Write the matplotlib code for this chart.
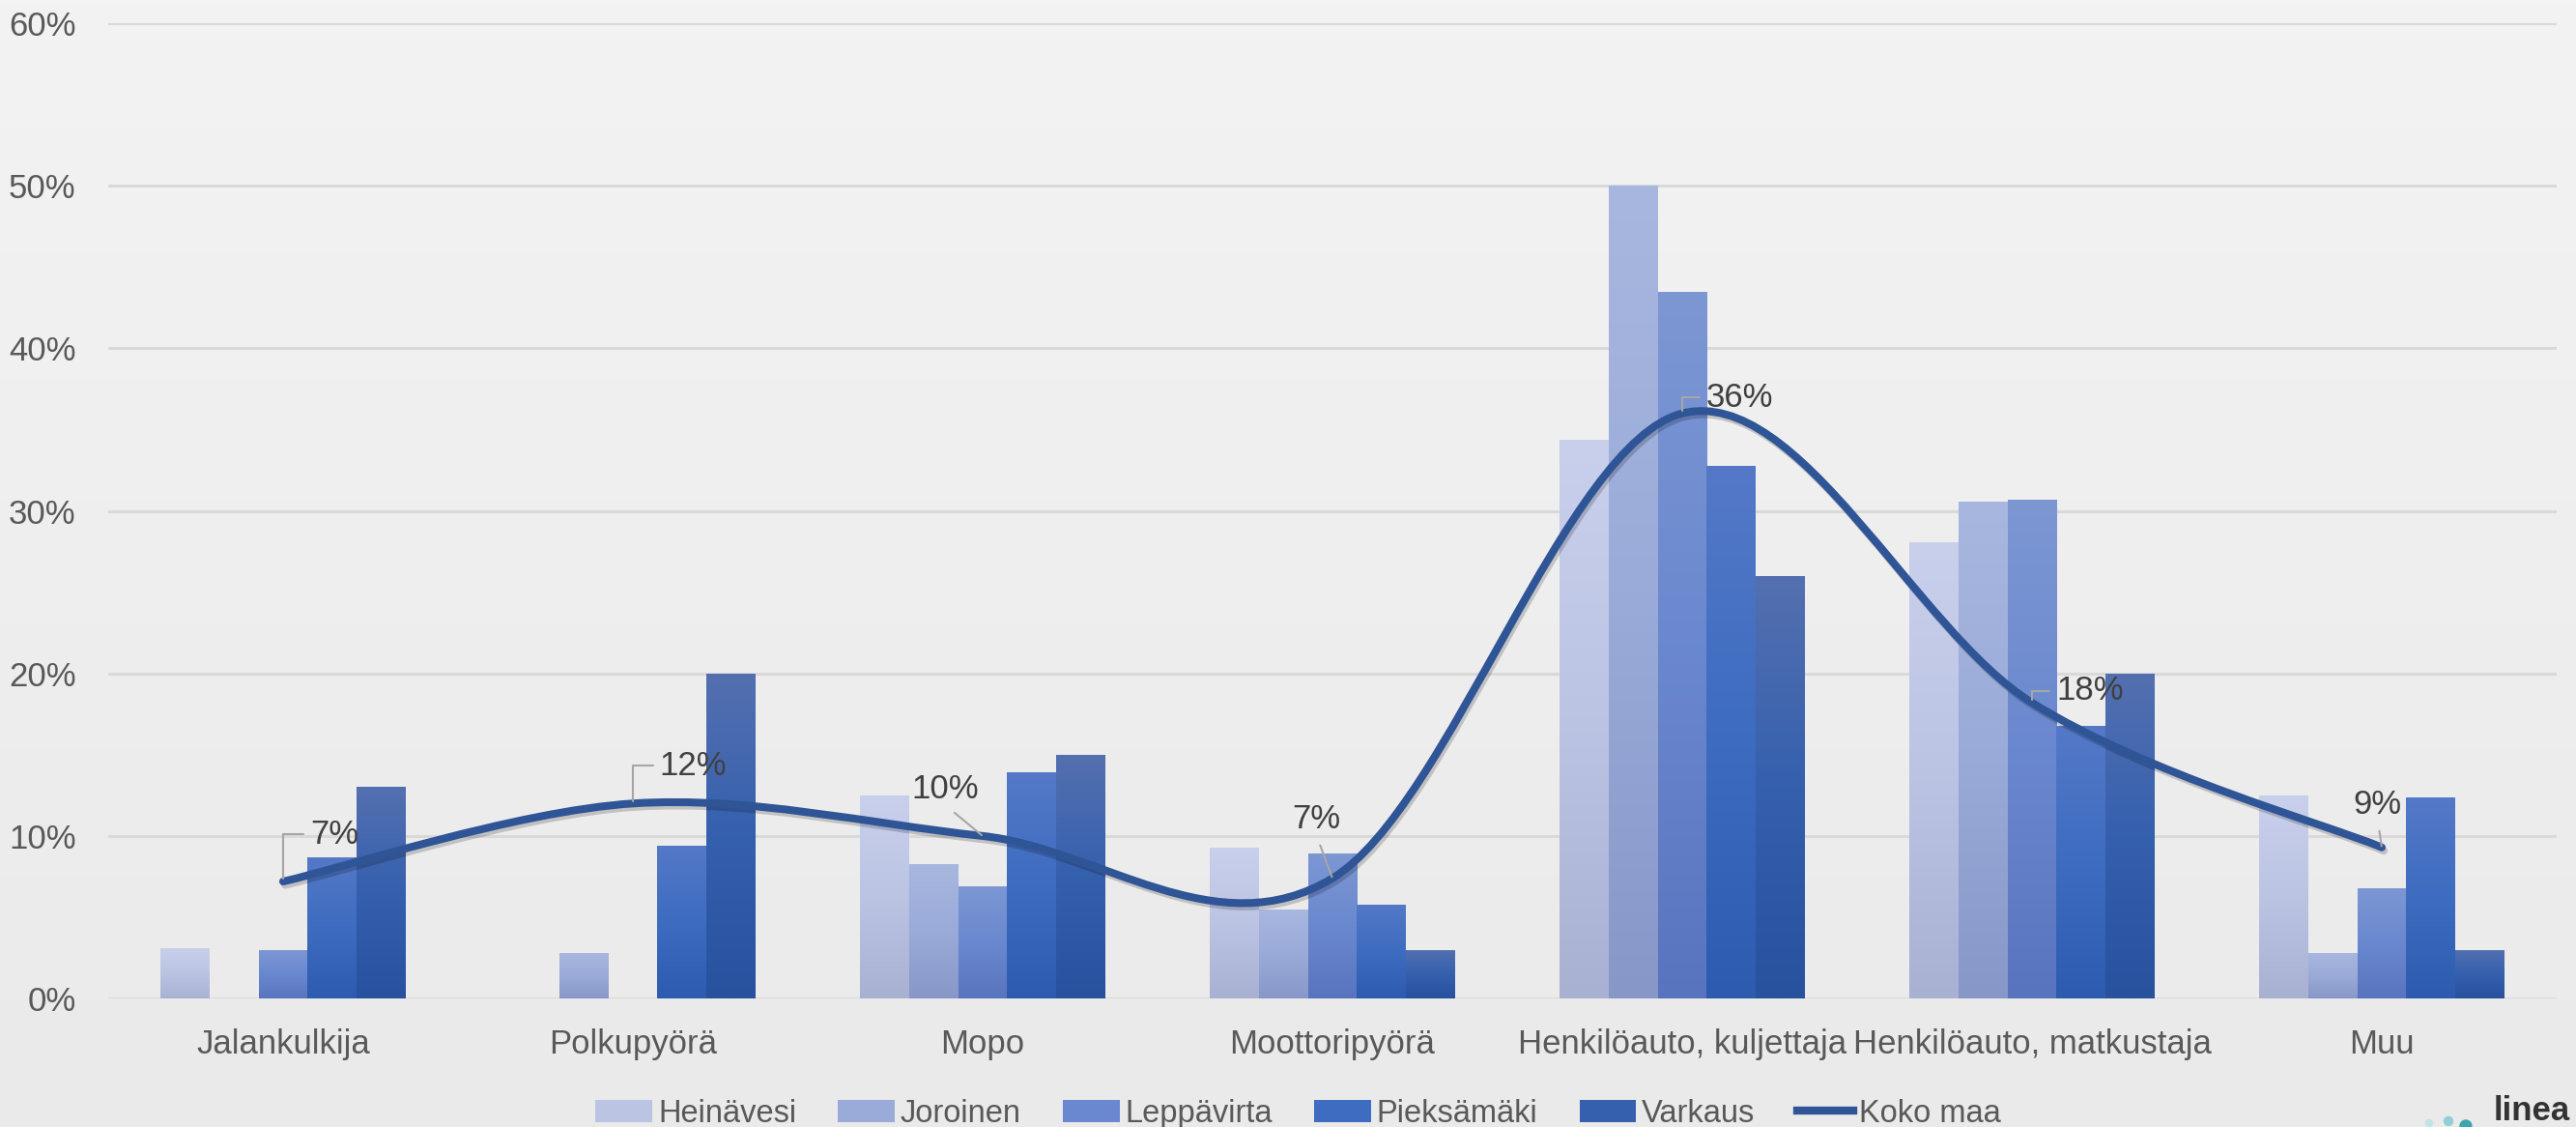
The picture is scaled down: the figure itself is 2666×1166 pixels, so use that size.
import numpy as np
import matplotlib
matplotlib.use("Agg")
import matplotlib.pyplot as plt
from matplotlib.colors import LinearSegmentedColormap
from matplotlib.path import Path
from matplotlib.patches import PathPatch, Patch, Circle
from matplotlib.lines import Line2D
import matplotlib.patheffects as pe

# data (percent)
categories = ["Jalankulkija", "Polkupyörä", "Mopo", "Moottoripyörä",
              "Henkilöauto, kuljettaja", "Henkilöauto, matkustaja", "Muu"]
heinavesi = [3.1, 0.0, 12.5, 9.3, 34.4, 28.1, 12.5]
joroinen = [0.0, 2.8, 8.3, 5.5, 50.0, 30.6, 2.8]
leppavirta = [3.0, 0.0, 6.9, 8.9, 43.5, 30.7, 6.8]
pieksamaki = [8.7, 9.4, 13.9, 5.8, 32.8, 16.8, 12.4]
varkaus = [13.0, 20.0, 15.0, 3.0, 26.0, 20.0, 3.0]
koko_maa = [7.2, 12.0, 10.0, 7.4, 36.0, 18.2, 9.3]
koko_maa_labels = ["7%", "12%", "10%", "7%", "36%", "18%", "9%"]
series_names = ["Heinävesi", "Joroinen", "Leppävirta", "Pieksämäki", "Varkaus"]
y_ticks = [0, 10, 20, 30, 40, 50, 60]

plt.rcParams["font.family"] = ["Liberation Sans", "DejaVu Sans"]

TEXT = "#595959"
LINE = "#2f5597"

# gradient stops per series, bottom -> top
bar_colors = [
    ["#a9b1d3", "#bcc4e4", "#c8d0ec"],
    ["#8797c8", "#9aabd9", "#a8b7df"],
    ["#5874be", "#6a88cf", "#7d97d3"],
    ["#2d5baf", "#3d6cc0", "#5579c8"],
    ["#28519e", "#3560ae", "#5470b0"],
]
legend_colors = ["#bcc4e4", "#9aabd9", "#6a88cf", "#3d6cc0", "#3560ae"]


def smooth_path(x, y):
    # cubic bezier through the points, like a spreadsheet "smoothed line"
    verts = [(x[0], y[0])]
    codes = [Path.MOVETO]
    n = len(x)
    for i in range(n - 1):
        xa, ya = x[max(i - 1, 0)], y[max(i - 1, 0)]
        xb, yb = x[min(i + 2, n - 1)], y[min(i + 2, n - 1)]
        c1 = (x[i] + (x[i + 1] - xa) / 6, y[i] + (y[i + 1] - ya) / 6)
        c2 = (x[i + 1] - (xb - x[i]) / 6, y[i + 1] - (yb - y[i]) / 6)
        verts += [c1, c2, (x[i + 1], y[i + 1])]
        codes += [Path.CURVE4] * 3
    return Path(verts, codes)


fig = plt.figure(figsize=(26.66, 11.66), dpi=100)

# background gradient
bg = fig.add_axes([0, 0, 1, 1], zorder=-5)
bg.imshow(np.linspace(0, 1, 256).reshape(-1, 1), aspect="auto", extent=[0, 1, 0, 1],
          cmap=LinearSegmentedColormap.from_list("bg", ["#f3f3f3", "#eaeaea"]))
bg.axis("off")

ax = fig.add_axes([0.042, 0.114, 0.9505, 0.8653])
ax.set_facecolor("none")

x = np.arange(len(categories))
width = 0.14
grad = np.linspace(0, 1, 256).reshape(-1, 1)
all_series = [heinavesi, joroinen, leppavirta, pieksamaki, varkaus]

for k, vals in enumerate(all_series):
    bars = ax.bar(x + (k - 2) * width, vals, width, color=legend_colors[k],
                  linewidth=0, zorder=2)
    cmap = LinearSegmentedColormap.from_list(series_names[k], bar_colors[k])
    for r in bars:
        h = r.get_height()
        if h <= 0:
            continue
        im = ax.imshow(grad, extent=[r.get_x(), r.get_x() + r.get_width(), 0, h],
                       origin="lower", cmap=cmap, aspect="auto", zorder=2.1)
        im.set_clip_path(r)

# smoothed national line
path = smooth_path(list(x), koko_maa)
ax.add_patch(PathPatch(path, facecolor="none", edgecolor=LINE, lw=5.8,
                       capstyle="round", joinstyle="round", zorder=4,
                       path_effects=[pe.SimpleLineShadow(offset=(1.5, -2.5), alpha=0.18),
                                     pe.Normal()]))

# data labels with leader lines (offsets in points)
label_pos = [
    ((20, 35), "L"), ((20, 28), "L"), ((-28, 35), "S"), ((-12, 44), "S"),
    ((18, 12), "L"), ((18, 9), "L"), ((-3, 32), "S"),
]
for i, (off, kind) in enumerate(label_pos):
    if kind == "L":
        ax.annotate(koko_maa_labels[i], (x[i], koko_maa[i]), xytext=off,
                    textcoords="offset points", ha="left", va="center",
                    fontsize=25, color="#404040", zorder=6,
                    arrowprops=dict(arrowstyle="-", color="#a6a6a6", lw=1.5,
                                    connectionstyle="angle,angleA=0,angleB=90,rad=0",
                                    relpos=(0, 0.5), shrinkA=3, shrinkB=2))
    else:
        ax.annotate(koko_maa_labels[i], (x[i], koko_maa[i]), xytext=off,
                    textcoords="offset points", ha="center", va="center",
                    fontsize=25, color="#404040", zorder=6,
                    arrowprops=dict(arrowstyle="-", color="#a6a6a6", lw=1.5,
                                    relpos=(0.5, 0), shrinkA=6, shrinkB=1))

ax.set_xlim(-0.5, len(categories) - 0.5)
ax.set_ylim(0, 60)
ax.set_yticks(y_ticks)
ax.set_yticklabels([f"{t}%" for t in y_ticks])
ax.set_xticks(x)
ax.set_xticklabels(categories)
ax.tick_params(axis="both", length=0, labelsize=25, labelcolor=TEXT)
ax.tick_params(axis="y", pad=24)
ax.tick_params(axis="x", pad=22)
ax.grid(axis="y", color="#d9d9d9", lw=2.2, zorder=0)
ax.set_axisbelow(True)
for s in ax.spines.values():
    s.set_visible(False)

handles = [Patch(facecolor=c, linewidth=0) for c in legend_colors]
handles.append(Line2D([0], [0], color=LINE, lw=6))
fig.legend(handles, series_names + ["Koko maa"], loc="center",
           bbox_to_anchor=(0.504, 0.012), ncol=6, frameon=False, fontsize=23.5,
           labelcolor=TEXT, handlelength=1.8, handleheight=0.7,
           handletextpad=0.18, columnspacing=1.32)

# logo in the corner
fig.text(0.968, 0.0, "linea", fontsize=25, fontweight="bold", color="#333333",
         ha="left", va="bottom")
for cx, cy, rr, col in [(25.14, 0.04, 0.035, "#bfe3e6"), (25.34, 0.06, 0.045, "#8fd0d6"),
                        (25.52, 0.01, 0.06, "#3aa6ae")]:
    fig.add_artist(Circle((cx, cy), rr, transform=fig.dpi_scale_trans,
                          color=col, clip_on=False))

fig.savefig("out.png", dpi=100, facecolor="#ebebeb")
